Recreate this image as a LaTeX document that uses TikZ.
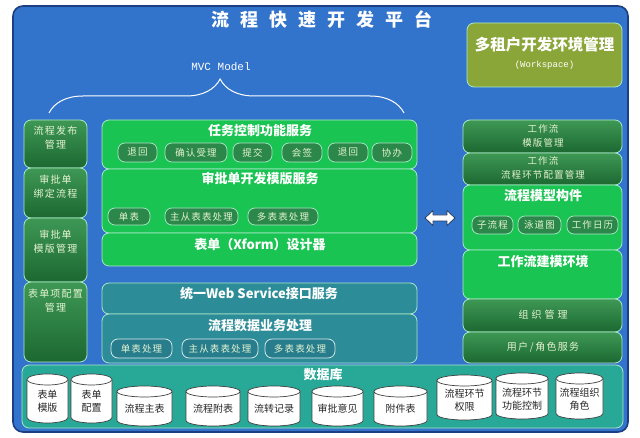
\documentclass[tikz,border=0pt]{standalone}
\usepackage{fontspec}
\setmainfont{Noto Sans CJK SC}
\newfontfamily\spf{Noto Sans CJK SC}[LetterSpace=12]
\newfontfamily\monof{Liberation Mono}
\usetikzlibrary{decorations.pathreplacing}
\definecolor{bgblue}{RGB}{50,116,204}
\definecolor{frameblue}{RGB}{28,62,130}
\definecolor{bgreen}{RGB}{26,196,82}
\definecolor{edgemint}{RGB}{170,232,200}
\definecolor{dgtop}{RGB}{62,152,84}
\definecolor{dgbot}{RGB}{28,104,50}
\definecolor{pillg}{RGB}{44,136,74}
\definecolor{tealbox}{RGB}{44,140,152}
\definecolor{pillt}{RGB}{40,125,140}
\definecolor{dbteal}{RGB}{40,168,150}
\definecolor{olivebox}{RGB}{138,166,56}
\definecolor{paletxt}{RGB}{228,242,210}
\definecolor{arrowedge}{RGB}{40,60,95}
\newcommand\dbcyl[6]{%
  \pgfmathsetmacro\rxv{(#3-#2)/2}%
  \def\ryv{5.5}%
  \filldraw[cylline] (#2,#4+\ryv) -- (#2,#5-\ryv)
     arc[start angle=180,end angle=360,x radius=\rxv pt,y radius=\ryv pt]
     -- (#3,#4+\ryv)
     arc[start angle=0,end angle=180,x radius=\rxv pt,y radius=\ryv pt] -- cycle;
  \draw[cylline] (#2,#4+\ryv) arc[start angle=180,end angle=360,x radius=\rxv pt,y radius=\ryv pt];
  \node[dbtext] (#1) at ({(#2+#3)/2},{(#4+#5)/2+3}) {#6};
}
\begin{document}
\begin{tikzpicture}[x=1pt,y=-1pt,
  box/.style={rounded corners=7pt, draw=edgemint, line width=0.8pt, inner sep=0pt},
  greenbox/.style={box, fill=bgreen},
  darkbox/.style={box, top color=dgtop, bottom color=dgbot},
  tealb/.style={box, fill=tealbox},
  heading/.style={text=white, font=\bfseries\fontsize{13}{15}\selectfont, inner sep=0pt},
  pill/.style={draw=edgemint, line width=0.7pt, fill=pillg, rounded corners=7pt,
     text=paletxt, font=\spf\fontsize{9.5}{11}\selectfont, inner sep=0pt},
  tpill/.style={pill, fill=pillt, draw=white!85!tealbox},
  coltext/.style={text=paletxt, font=\spf\fontsize{10}{14}\selectfont, align=center, inner sep=0pt},
  dbtext/.style={text=black!85, font=\fontsize{10}{13}\selectfont, align=center, inner sep=0pt},
  cylline/.style={draw=black!75, fill=white, line width=0.7pt}
]
\fill[white] (0,0) rectangle (640,438);
\useasboundingbox (0,0) rectangle (640,438);
% frame
\node[draw=frameblue, line width=1.6pt, fill=bgblue, rounded corners=10pt,
  minimum width=615pt, minimum height=426pt, inner sep=0pt] (frame) at (320.5,219) {};
\node[text=white, font=\bfseries\fontsize{18}{20}\selectfont, inner sep=0pt] (title) at (322,20)
  {流\hspace{11pt}程\hspace{11pt}快\hspace{11pt}速\hspace{11pt}开\hspace{11pt}发\hspace{11pt}平\hspace{11pt}台};
% workspace
\node[box, fill=olivebox, minimum width=155pt, minimum height=64pt] (ws) at (544.5,55) {};
\node[text=white, font=\bfseries\fontsize{15.5}{17}\selectfont, inner sep=0pt] (wst) at (544.5,45) {多租户开发环境管理};
\node[text=white, font=\monof\fontsize{9}{10}\selectfont, inner sep=0pt] (wss) at (544.5,65) {(Workspace)};
% MVC
\node[text=white, font=\monof\fontsize{11}{12}\selectfont, inner sep=0pt] (mvc) at (221,67) {MVC Model};
\coordinate (brl) at (49,113);
\coordinate (brr) at (404,113);
\draw[white, line width=1pt, decorate, decoration={brace, amplitude=34pt, aspect=0.482}] (brl) -- (brr);
% left column
\node[darkbox, minimum width=63pt, minimum height=48pt] (l1) at (55.5,144) {};
\node[darkbox, minimum width=63pt, minimum height=50pt] (l2) at (55.5,193) {};
\node[darkbox, minimum width=63pt, minimum height=64pt] (l3) at (55.5,250) {};
\node[darkbox, minimum width=63pt, minimum height=80pt] (l4) at (55.5,322) {};
\node[coltext] (l1t) at (55.5,137.5) {流程发布\\管理};
\node[coltext] (l2t) at (55.5,187) {审批单\\绑定流程};
\node[coltext] (l3t) at (55.5,242) {审批单\\模版管理};
\node[coltext] (l4t) at (55.5,301) {表单项配置\\管理};
% middle column
\node[greenbox, minimum width=315pt, minimum height=49pt] (m1) at (259.5,144.5) {};
\node[greenbox, minimum width=315pt, minimum height=64pt] (m2) at (259.5,201) {};
\node[greenbox, minimum width=315pt, minimum height=33pt] (m3) at (259.5,249.5) {};
\node[tealb, minimum width=315pt, minimum height=31pt] (m4) at (259.5,298.5) {};
\node[tealb, minimum width=315pt, minimum height=49pt] (m5) at (259.5,338.5) {};
\node[heading] (m1t) at (260,131) {任务控制功能服务};
\node[heading] (m2t) at (260,179) {审批单开发模版服务};
\node[heading] (m3t) at (260,245) {表单（Xform）设计器};
\node[heading] (m4t) at (259,294) {统一Web Service接口服务};
\node[heading] (m5t) at (260,326) {流程数据业务处理};
% pills in m1
\node[pill, minimum width=39pt, minimum height=19pt] (p11) at (137.5,152.5) {退回};
\node[pill, minimum width=62pt, minimum height=19pt] (p12) at (196,152.5) {确认受理};
\node[pill, minimum width=39pt, minimum height=19pt] (p13) at (252.5,152.5) {提交};
\node[pill, minimum width=40pt, minimum height=19pt] (p14) at (302,152.5) {会签};
\node[pill, minimum width=40pt, minimum height=19pt] (p15) at (348,152.5) {退回};
\node[pill, minimum width=40pt, minimum height=19pt] (p16) at (392,152.5) {协办};
% pills in m2
\node[pill, minimum width=42pt, minimum height=17pt] (p21) at (129,216.5) {单表};
\node[pill, minimum width=73pt, minimum height=17pt] (p22) at (201.5,216.5) {主从表表处理};
\node[pill, minimum width=70pt, minimum height=17pt] (p23) at (283,216.5) {多表表处理};
% pills in m5
\node[tpill, minimum width=61pt, minimum height=19pt] (p51) at (141.5,348.5) {单表处理};
\node[tpill, minimum width=76pt, minimum height=19pt] (p52) at (220,348.5) {主从表表处理};
\node[tpill, minimum width=70pt, minimum height=19pt] (p53) at (300,348.5) {多表表处理};
% double arrow
\draw[fill=white, draw=arrowedge, line width=0.8pt, line join=round]
  (425,218) -- (433,210.5) -- (433,215) -- (447,215) -- (447,210.5) -- (455,218)
  -- (447,225.5) -- (447,221) -- (433,221) -- (433,225.5) -- cycle;
% right column
\node[darkbox, minimum width=159pt, minimum height=33pt] (r1) at (542.5,136.5) {};
\node[darkbox, minimum width=159pt, minimum height=32pt] (r2) at (542.5,169) {};
\node[greenbox, minimum width=159pt, minimum height=65pt] (r3) at (542.5,217.5) {};
\node[greenbox, minimum width=159pt, minimum height=49pt] (r4) at (542.5,274.5) {};
\node[darkbox, minimum width=159pt, minimum height=33pt] (r5) at (542.5,315.5) {};
\node[darkbox, minimum width=159pt, minimum height=31pt] (r6) at (542.5,347.5) {};
\node[coltext, font=\spf\fontsize{9.5}{14}\selectfont] (r1t) at (543,135.5) {工作流\\模版管理};
\node[coltext, font=\spf\fontsize{9.5}{14}\selectfont] (r2t) at (543,168) {工作流\\流程环节配置管理};
\node[heading] (r3t) at (543,196) {流程模型构件};
\node[heading] (r4t) at (543,262) {工作流建模环境};
\node[coltext, font=\spf\fontsize{10}{14}\selectfont] (r5t) at (543,315) {组\hspace{3pt}织\hspace{3pt}管\hspace{3pt}理};
\node[coltext, font=\spf\fontsize{10}{14}\selectfont] (r6t) at (543,347) {用户\,/\,角色服务};
\node[pill, minimum width=41pt, minimum height=18pt] (p31) at (492.5,225) {子流程};
\node[pill, minimum width=43pt, minimum height=18pt] (p32) at (539.5,225) {泳道图};
\node[pill, minimum width=51pt, minimum height=18pt] (p33) at (592.5,225) {工作日历};
% database
\node[box, fill=dbteal, minimum width=601pt, minimum height=63pt] (db) at (322.5,396.5) {};
\node[heading] (dbt) at (323,375) {数据库};
\dbcyl{c1}{27}{68}{374}{423}{表单\\模版}
\dbcyl{c2}{71}{112}{374}{423}{表单\\配置}
\dbcyl{c3}{117}{172}{386}{426}{流程主表}
\dbcyl{c4}{186}{240}{386}{426}{流程附表}
\dbcyl{c5}{248}{300}{386}{426}{流转记录}
\dbcyl{c6}{312}{363}{386}{426}{审批意见}
\dbcyl{c7}{374}{427}{386}{426}{附件表}
\dbcyl{c8}{437}{492}{375}{420}{流程环节\\权限}
\dbcyl{c9}{496}{548}{373}{419}{流程环节\\功能控制}
\dbcyl{c10}{556}{603}{373}{419}{流程组织\\角色}
\end{tikzpicture}
\end{document}
